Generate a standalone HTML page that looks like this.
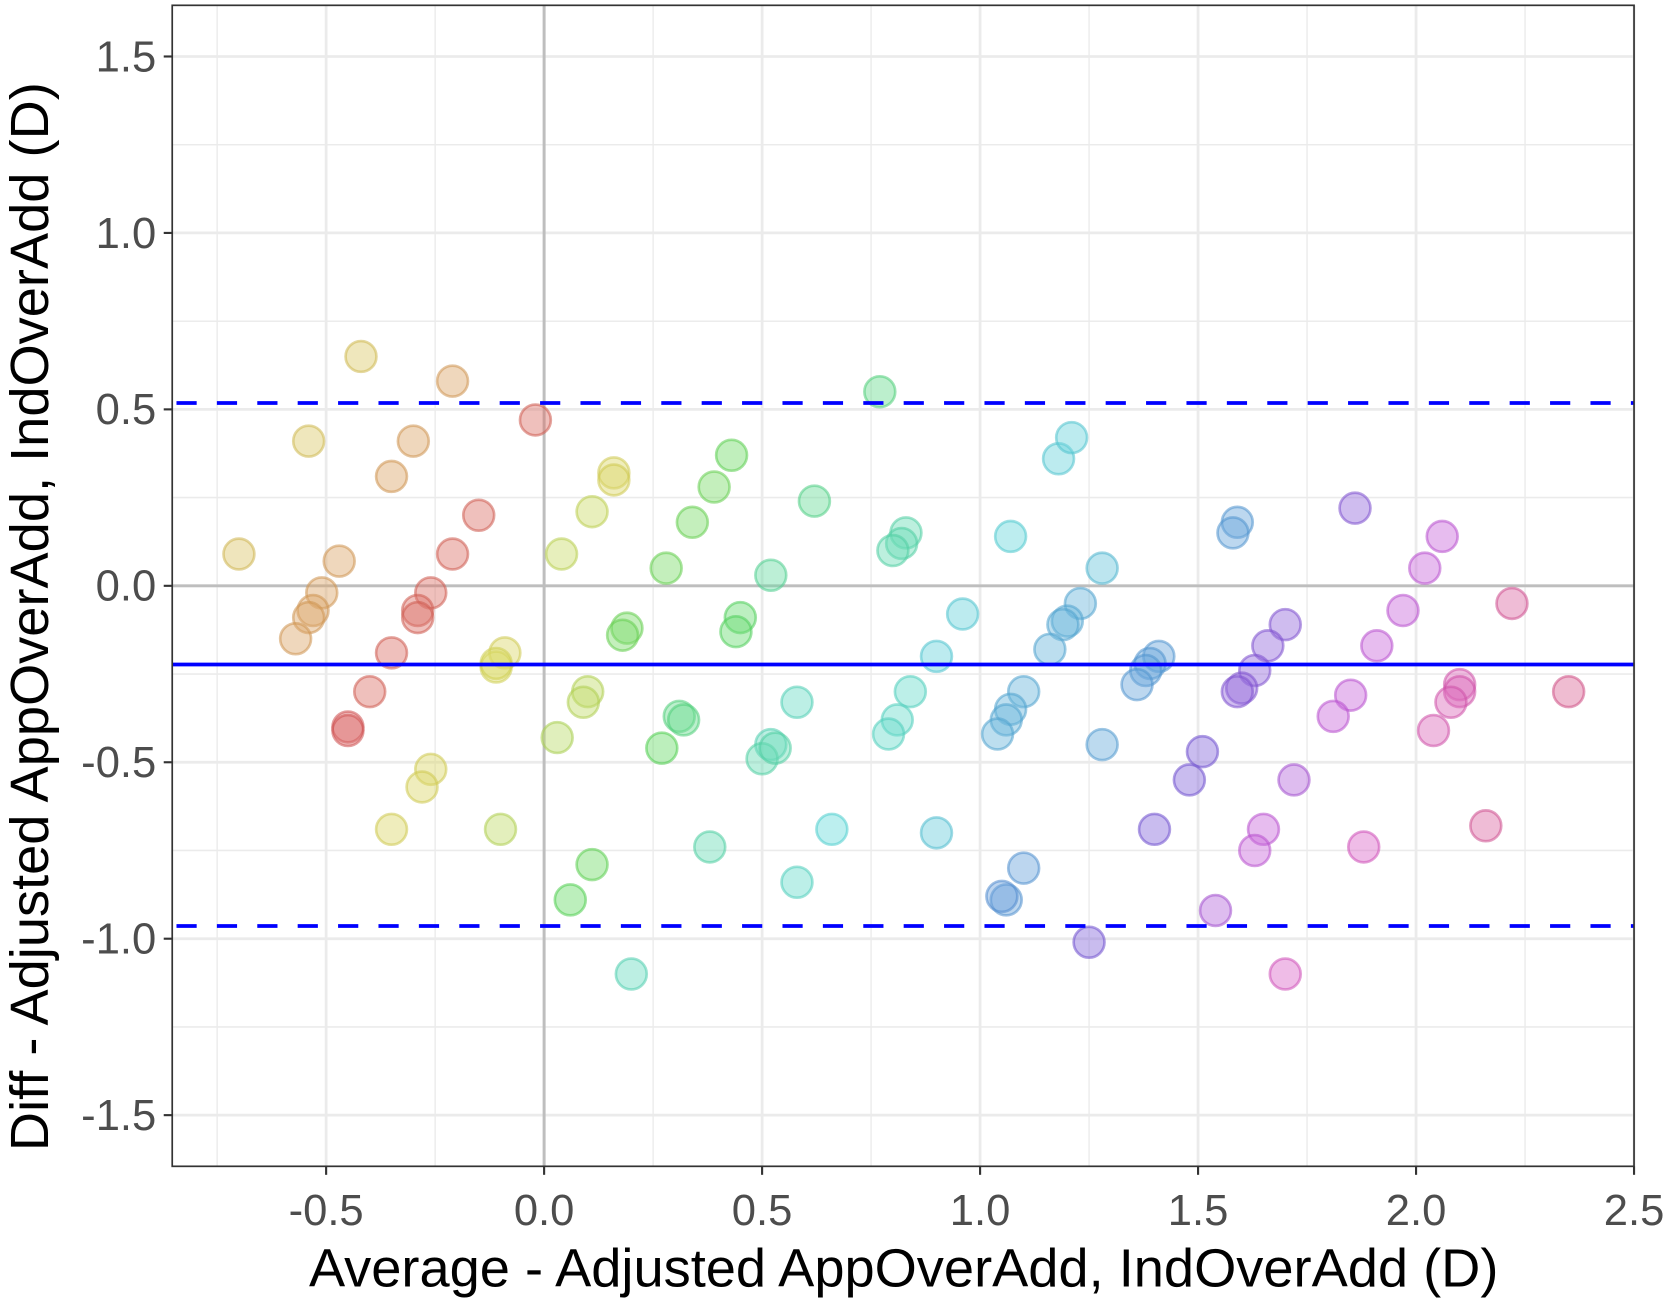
<!DOCTYPE html>
<html><head><meta charset="utf-8"><style>
html,body{margin:0;padding:0;background:#fff}
svg{display:block}
text{font-family:"Liberation Sans",sans-serif}
</style></head><body>
<svg id="chart" width="1667" height="1304" viewBox="0 0 1568 1226.5" preserveAspectRatio="none" xmlns="http://www.w3.org/2000/svg"></svg>
<script>
const xTicks=[-0.5,0,0.5,1,1.5,2,2.5];
const yTicks=[1.5,1,0.5,0,-0.5,-1,-1.5];
const xLabels=["-0.5","0.0","0.5","1.0","1.5","2.0","2.5"];
const yLabels=["1.5","1.0","0.5","0.0","-0.5","-1.0","-1.5"];
const meanDiff=-0.223;
const upperLoA=0.518;
const lowerLoA=-0.964;
const avgVals=[-0.70,-0.42,-0.21,-0.02,-0.54,-0.30,-0.35,-0.15,-0.47,-0.21,-0.51,-0.53,-0.54,-0.57,-0.26,-0.29,-0.29,-0.35,-0.40,-0.45,-0.45,-0.26,-0.28,-0.35,-0.09,-0.11,-0.11,-0.10,0.04,0.11,0.16,0.16,0.19,0.18,0.10,0.09,0.03,0.11,0.06,0.20,0.28,0.34,0.39,0.43,0.45,0.44,0.31,0.32,0.27,0.38,0.52,0.62,0.77,0.52,0.50,0.53,0.58,0.66,0.58,0.83,0.82,0.80,0.84,0.81,0.79,0.90,0.96,0.90,1.07,1.18,1.21,1.28,1.23,1.20,1.19,1.16,1.10,1.07,1.06,1.04,1.28,1.10,1.06,1.05,1.25,1.59,1.58,1.41,1.39,1.38,1.36,1.40,1.51,1.48,1.54,1.70,1.66,1.63,1.60,1.59,1.86,1.72,1.65,1.63,1.70,1.91,1.97,2.02,2.06,1.85,1.81,1.88,2.10,2.10,2.08,2.04,2.16,2.22,2.35];
const diffVals=[0.09,0.65,0.58,0.47,0.41,0.41,0.31,0.20,0.07,0.09,-0.02,-0.07,-0.09,-0.15,-0.02,-0.07,-0.09,-0.19,-0.30,-0.40,-0.41,-0.52,-0.57,-0.69,-0.19,-0.23,-0.22,-0.69,0.09,0.21,0.32,0.30,-0.12,-0.14,-0.30,-0.33,-0.43,-0.79,-0.89,-1.10,0.05,0.18,0.28,0.37,-0.09,-0.13,-0.37,-0.38,-0.46,-0.74,0.03,0.24,0.55,-0.45,-0.49,-0.46,-0.33,-0.69,-0.84,0.15,0.12,0.10,-0.30,-0.38,-0.42,-0.20,-0.08,-0.70,0.14,0.36,0.42,0.05,-0.05,-0.10,-0.11,-0.18,-0.30,-0.35,-0.38,-0.42,-0.45,-0.80,-0.89,-0.88,-1.01,0.18,0.15,-0.20,-0.22,-0.24,-0.28,-0.69,-0.47,-0.55,-0.92,-0.11,-0.17,-0.24,-0.29,-0.30,0.22,-0.55,-0.69,-0.75,-1.10,-0.17,-0.07,0.05,0.14,-0.31,-0.37,-0.74,-0.28,-0.30,-0.33,-0.41,-0.68,-0.05,-0.30];
const hues=[48,50,32,5,50,32,32,5,32,5,32,32,32,32,5,5,5,5,5,0,0,58,58,58,58,60,60,75,70,68,58,58,110,110,75,75,78,115,120,165,110,110,110,115,125,125,140,140,120,160,150,145,140,165,160,160,168,180,172,160,160,160,172,172,172,185,185,188,182,185,185,192,200,200,200,200,200,200,200,200,205,210,210,212,255,208,208,208,208,208,208,255,255,255,280,262,262,262,262,262,262,280,290,290,310,290,290,290,290,290,290,310,318,318,318,318,330,330,335];
const X0=162,X1=1537,Y0=5,Y1=1097;
const xMin=-0.853,xMax=2.5,yMin=-1.645,yMax=1.645;
const sx=v=>X0+(v-xMin)/(xMax-xMin)*(X1-X0);
const sy=v=>Y1-(v-yMin)/(yMax-yMin)*(Y1-Y0);
const svg=document.getElementById('chart');
const NS='http://www.w3.org/2000/svg';
function mk(t,a,p){const e=document.createElementNS(NS,t);for(const k in a)e.setAttribute(k,a[k]);(p||svg).appendChild(e);return e;}
const panel=mk('rect',{x:X0,y:Y0,width:X1-X0,height:Y1-Y0,fill:'#fff'});


const grid=mk('g',{});


for(let i=0;i<xTicks.length;i++){
  for(const v of [xTicks[i],xTicks[i]-0.25]){
    if(v<xMin||v>xMax)continue;
    const minor=(v!==xTicks[i]);
    mk('line',{x1:sx(v),x2:sx(v),y1:Y0,y2:Y1,stroke:'#ebebeb','stroke-width':minor?1.3:2.6},grid);
  }
}
for(let i=0;i<yTicks.length;i++){
  for(const v of [yTicks[i],yTicks[i]+0.25,yTicks[i]-0.25]){
    if(v<yMin||v>yMax)continue;
    const minor=(v!==yTicks[i]);
    mk('line',{x1:X0,x2:X1,y1:sy(v),y2:sy(v),stroke:'#ebebeb','stroke-width':minor?1.3:2.6},grid);
  }
}
const zx=mk('line',{x1:sx(0),x2:sx(0),y1:Y0,y2:Y1,stroke:'#bebebe','stroke-width':2.8});


const zy=mk('line',{x1:X0,x2:X1,y1:sy(0),y2:sy(0),stroke:'#bebebe','stroke-width':2.8});


const pts=mk('g',{});


for(let i=0;i<avgVals.length;i++){
  const h=hues[i];
  const c=mk('circle',{cx:sx(avgVals[i]),cy:sy(diffVals[i]),r:14.5,fill:`hsla(${h},62%,64%,0.45)`,stroke:`hsla(${h},55%,56%,0.55)`,'stroke-width':2.5},pts);
  
  
}
const ml=mk('line',{x1:X0,x2:X1,y1:sy(meanDiff),y2:sy(meanDiff),stroke:'#0000ff','stroke-width':3.5});


const ul=mk('line',{x1:X0,x2:X1,y1:sy(upperLoA),y2:sy(upperLoA),stroke:'#0000ff','stroke-width':3.5,'stroke-dasharray':'19 19','stroke-dashoffset':'-4'});


const ll=mk('line',{x1:X0,x2:X1,y1:sy(lowerLoA),y2:sy(lowerLoA),stroke:'#0000ff','stroke-width':3.5,'stroke-dasharray':'19 19','stroke-dashoffset':'-4'});


const border=mk('rect',{x:X0,y:Y0,width:X1-X0,height:Y1-Y0,fill:'none',stroke:'#333','stroke-width':1.6});


for(let i=0;i<xTicks.length;i++){
  const x=sx(xTicks[i]);
  const tk=mk('line',{x1:x,x2:x,y1:Y1,y2:Y1+8,stroke:'#333','stroke-width':2});
  
  
  const t=mk('text',{x:x,y:Y1+55,'text-anchor':'middle','font-size':41,fill:'#4d4d4d'});
  t.textContent=xLabels[i];
  
  
}
for(let i=0;i<yTicks.length;i++){
  const y=sy(yTicks[i]);
  const tk=mk('line',{x1:X0-8,x2:X0,y1:y,y2:y,stroke:'#333','stroke-width':2});
  
  
  const t=mk('text',{x:X0-15,y:y+14,'text-anchor':'end','font-size':41,fill:'#4d4d4d'});
  t.textContent=yLabels[i];
  
  
}
const xt=mk('text',{x:850,y:1210,'text-anchor':'middle','font-size':51,fill:'#000'});
xt.textContent='Average - Adjusted AppOverAdd, IndOverAdd (D)';


const yt=mk('text',{x:0,y:0,'text-anchor':'middle','font-size':51,fill:'#000',transform:`translate(45,580) rotate(-90)`});
yt.textContent='Diff - Adjusted AppOverAdd, IndOverAdd (D)';


</script>
</body></html>
